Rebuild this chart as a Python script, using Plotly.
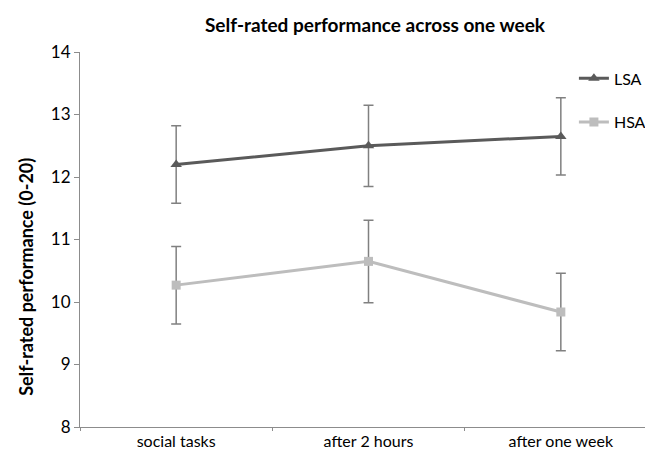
import plotly.graph_objects as go

categories = ["social tasks", "after 2 hours", "after one week"]
lsa_values = [12.2, 12.5, 12.65]
lsa_err = [0.62, 0.65, 0.62]
hsa_values = [10.27, 10.65, 9.84]
hsa_err = [0.62, 0.66, 0.62]
y_ticks = [8, 9, 10, 11, 12, 13, 14]

FONT = "Lato, Carlito, 'Open Sans', sans-serif"

fig = go.Figure()
fig.add_trace(go.Scatter(
    x=categories, y=lsa_values, name="LSA", mode="lines+markers",
    line=dict(color="#5a5a5a", width=3),
    marker=dict(symbol="triangle-up", size=10, color="#5a5a5a"),
    error_y=dict(type="data", array=lsa_err, color="#808080", thickness=1.5, width=5),
    legendgroup="a",
))
fig.add_trace(go.Scatter(
    x=categories, y=hsa_values, name="HSA", mode="lines+markers",
    line=dict(color="#bdbdbd", width=3),
    marker=dict(symbol="square", size=9, color="#bdbdbd"),
    error_y=dict(type="data", array=hsa_err, color="#808080", thickness=1.5, width=5),
    legendgroup="b",
))

fig.update_layout(
    width=653, height=450,
    margin=dict(l=72, r=4, t=44, b=31),
    paper_bgcolor="white", plot_bgcolor="white",
    font=dict(family=FONT, color="#000000", size=13),
    title=dict(text="<b>Self-rated performance across one week</b>",
               x=0.562, xanchor="center", y=0.962, yanchor="middle",
               font=dict(size=19, family=FONT, color="#000")),
    showlegend=True,
    legend=dict(x=0.856, y=0.975, xanchor="left", yanchor="top",
                bgcolor="rgba(0,0,0,0)", font=dict(size=16, family=FONT),
                traceorder="grouped", tracegroupgap=20, itemwidth=30),
    xaxis=dict(showline=True, linecolor="#8c8c8c", linewidth=1,
               ticks="outside", tickson="boundaries", ticklen=3, tickcolor="#8c8c8c",
               showgrid=False, tickfont=dict(size=16), range=[-0.5, 2.5]),
    yaxis=dict(range=[8, 14], tickvals=y_ticks, showline=True, linecolor="#8c8c8c",
               linewidth=1, ticks="outside", ticklen=5, tickcolor="#8c8c8c",
               showgrid=False, zeroline=False, tickfont=dict(size=17)),
    annotations=[dict(text="<b>Self-rated performance (0-20)</b>", textangle=-90,
                      xref="paper", yref="paper", x=-0.094, y=0.40,
                      xanchor="center", yanchor="middle", showarrow=False,
                      font=dict(size=18, family=FONT, color="#000"))],
)

fig.write_html("out.html")
